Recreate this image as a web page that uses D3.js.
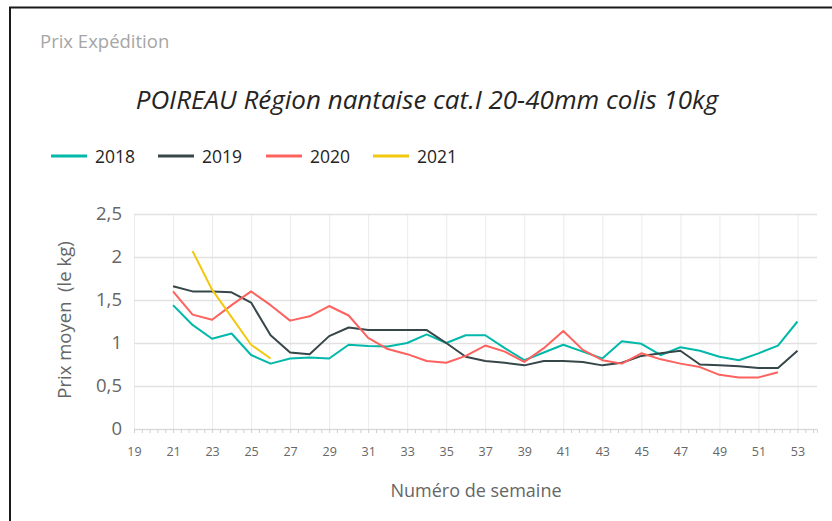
<!DOCTYPE html>
<html>
<head>
<meta charset="utf-8">
<script src="https://cdn.jsdelivr.net/npm/d3@7"></script>
<style>
  body { margin: 0; background: #fff; }
  svg { display: block; font-family: "Open Sans", "Noto Sans", sans-serif; }
</style>
</head>
<body>
<svg id="chart"></svg>
<script>
// series data (prix moyen par semaine)
const years = ["2018", "2019", "2020", "2021"];
const colors = ["#01B8AA", "#374649", "#FD625E", "#F2C80F"];
const startWeeks = [21, 21, 21, 22];
const v2018 = [1.44, 1.21, 1.05, 1.11, 0.86, 0.76, 0.82, 0.83, 0.82, 0.98,
  0.965, 0.96, 1.0, 1.10, 1.0, 1.09, 1.09, 0.94, 0.80, 0.89,
  0.98, 0.90, 0.82, 1.02, 0.99, 0.86, 0.95, 0.91, 0.84, 0.80,
  0.88, 0.97, 1.25];
const v2019 = [1.66, 1.60, 1.60, 1.59, 1.47, 1.09, 0.89, 0.87, 1.08, 1.18,
  1.15, 1.15, 1.15, 1.15, 1.0, 0.84, 0.79, 0.77, 0.74, 0.79,
  0.79, 0.78, 0.74, 0.77, 0.85, 0.88, 0.91, 0.75, 0.74, 0.73,
  0.71, 0.71, 0.91];
const v2020 = [1.60, 1.33, 1.27, 1.44, 1.60, 1.44, 1.26, 1.31, 1.43, 1.32,
  1.06, 0.93, 0.87, 0.79, 0.77, 0.85, 0.97, 0.90, 0.78, 0.94,
  1.14, 0.92, 0.80, 0.76, 0.88, 0.81, 0.76, 0.72, 0.63, 0.60,
  0.60, 0.66];
const v2021 = [2.07, 1.62, 1.30, 0.98, 0.82];
const xTicks = [19, 21, 23, 25, 27, 29, 31, 33, 35, 37, 39, 41, 43, 45, 47, 49, 51, 53];
const yTicks = [0, 0.5, 1, 1.5, 2, 2.5];

const width = 832;
const height = 521;
const plotLeft = 134;
const plotRight = 817;
const plotTop = 214;
const plotBottom = 429;

const svg = d3.select("#chart")
  .attr("width", width)
  .attr("height", height);

// frame
svg.append("line")
  .attr("x1", 9).attr("x2", width).attr("y1", 7.5).attr("y2", 7.5)
  .attr("stroke", "#1a1a1a").attr("stroke-width", 2);
svg.append("line")
  .attr("x1", 10).attr("x2", 10).attr("y1", 7).attr("y2", height)
  .attr("stroke", "#1a1a1a").attr("stroke-width", 2);

svg.append("text")
  .attr("x", 40).attr("y", 48)
  .attr("font-size", 18.5).attr("fill", "#a6a6a6")
  .text("Prix Expédition");

svg.append("text")
  .attr("x", 427).attr("y", 109)
  .attr("text-anchor", "middle")
  .attr("font-size", 26).attr("font-style", "italic").attr("fill", "#252423")
  .text("POIREAU Région nantaise cat.I 20-40mm colis 10kg");

const xScale = d3.scaleLinear().domain([19, 54]).range([plotLeft, plotRight]);
const yScale = d3.scaleLinear().domain([0, 2.5]).range([plotBottom, plotTop]);

// gridlines
svg.append("g")
  .attr("transform", `translate(0, ${plotBottom})`)
  .call(d3.axisBottom(xScale).tickValues(xTicks).tickSize(-(plotBottom - plotTop)).tickFormat(""))
  .call(g => g.select(".domain").remove())
  .call(g => g.selectAll("line").attr("stroke", "#ebebeb"));

svg.append("g")
  .attr("transform", `translate(${plotLeft}, 0)`)
  .call(d3.axisLeft(yScale).tickValues(yTicks).tickSize(-(plotRight - plotLeft)).tickFormat(""))
  .call(g => g.select(".domain").remove())
  .call(g => g.selectAll("line").attr("stroke", "#e1e1e1").attr("stroke-width", 1.5));

// minor ticks under x axis
svg.append("g")
  .attr("transform", `translate(0, ${plotBottom})`)
  .call(d3.axisBottom(xScale).tickValues(d3.range(19, 54.01, 0.4)).tickSize(4).tickFormat(""))
  .call(g => g.select(".domain").attr("stroke", "#d8d8d8"))
  .call(g => g.selectAll("line").attr("stroke", "#d0d0d0"));

// axis labels
svg.append("g")
  .attr("transform", `translate(0, ${plotBottom})`)
  .call(d3.axisBottom(xScale).tickValues(xTicks).tickSize(0).tickPadding(18))
  .call(g => g.select(".domain").remove())
  .call(g => g.selectAll("text").attr("font-size", 12.5).attr("fill", "#666")
    .attr("font-family", "'Open Sans', sans-serif"));

svg.append("g")
  .attr("transform", `translate(${plotLeft}, 0)`)
  .call(d3.axisLeft(yScale).tickValues(yTicks).tickSize(0).tickPadding(12)
    .tickFormat(d => String(d).replace(".", ",")))
  .call(g => g.select(".domain").remove())
  .call(g => g.selectAll("text").attr("font-size", 18.5).attr("fill", "#666")
    .attr("font-family", "'Open Sans', sans-serif"));

svg.append("text")
  .attr("transform", `translate(71, 320) rotate(-90)`)
  .attr("text-anchor", "middle")
  .attr("font-size", 18.5).attr("fill", "#666")
  .attr("xml:space", "preserve")
  .text("Prix moyen  (le kg)");

svg.append("text")
  .attr("x", 476).attr("y", 497)
  .attr("text-anchor", "middle")
  .attr("font-size", 18).attr("fill", "#666")
  .text("Numéro de semaine");

// lines
const seriesValues = [v2018, v2019, v2020, v2021];
const series = years.map((y, i) => ({
  name: y,
  color: colors[i],
  points: seriesValues[i].map((v, j) => ({ week: startWeeks[i] + j, value: v }))
}));

const line = d3.line()
  .x(d => xScale(d.week))
  .y(d => yScale(d.value));

svg.selectAll(".series")
  .data(series)
  .enter()
  .append("path")
  .attr("class", "series")
  .attr("d", d => line(d.points))
  .attr("fill", "none")
  .attr("stroke", d => d.color)
  .attr("stroke-width", 2)
  .attr("stroke-linejoin", "round");

// legend
const legendX = [51, 158, 266, 373];
const legend = svg.selectAll(".legend")
  .data(series)
  .enter()
  .append("g")
  .attr("class", "legend")
  .attr("transform", (d, i) => `translate(${legendX[i]}, 156)`);

legend.append("line")
  .attr("x1", 0).attr("x2", 36)
  .attr("stroke", d => d.color)
  .attr("stroke-width", 3);

legend.append("text")
  .attr("x", 44).attr("y", 6.5)
  .attr("font-size", 17.5).attr("fill", "#252423")
  .text(d => d.name);
</script>
</body>
</html>
